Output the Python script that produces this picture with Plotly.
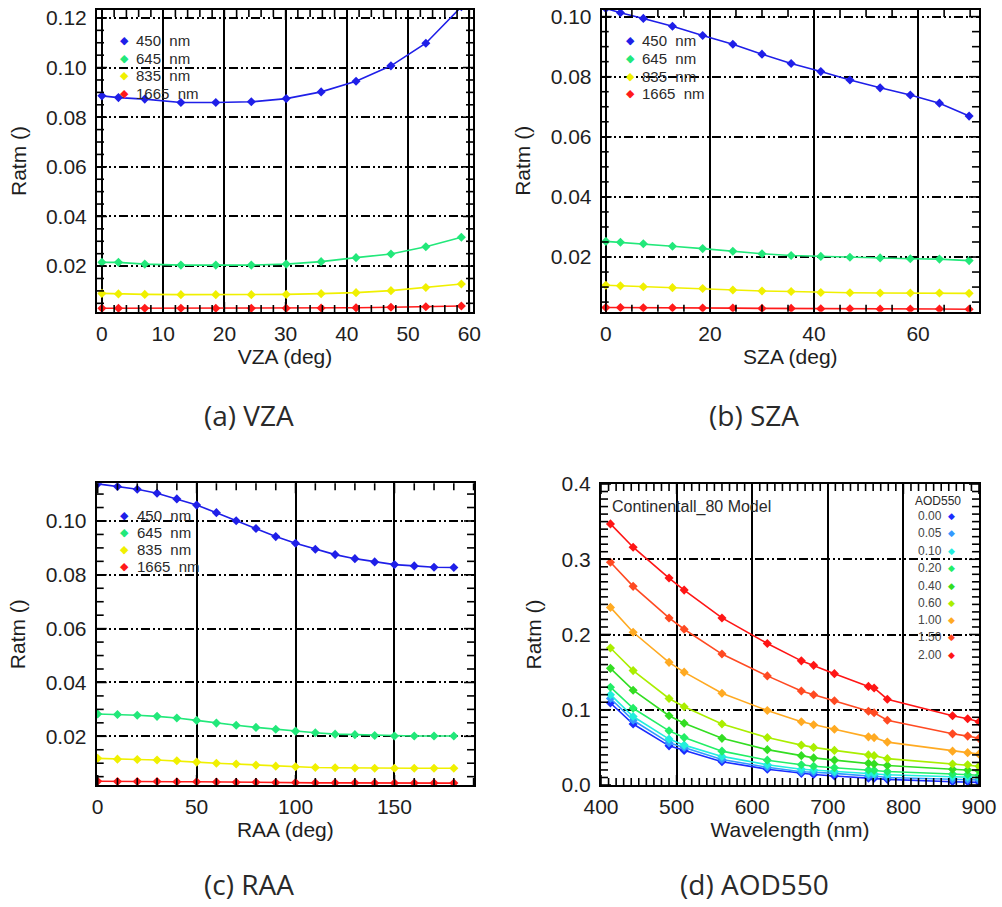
import numpy as np
import plotly.graph_objects as go

# ---------------- data ----------------
band_labels = ["450 nm", "645 nm", "835 nm", "1665 nm"]
band_colors = ["#1f1fe8", "#22e87a", "#f0f000", "#ff1a1a"]

vza = [0, 2.7, 7.0, 12.9, 18.6, 24.4, 30.1, 35.8, 41.5, 47.2, 52.9, 58.7]
vza_450 = [0.0886, 0.0879, 0.0873, 0.0859, 0.0859, 0.0862, 0.0875, 0.0902, 0.0945, 0.1007, 0.1098, 0.1245]
vza_645 = [0.0215, 0.0215, 0.0208, 0.0204, 0.0204, 0.0204, 0.0208, 0.0218, 0.0234, 0.0249, 0.0278, 0.0316]
vza_835 = [0.0090, 0.0088, 0.0086, 0.0085, 0.0085, 0.0085, 0.0086, 0.0089, 0.0093, 0.0101, 0.0114, 0.0128]
vza_1665 = [0.0030, 0.0030, 0.0030, 0.0030, 0.0030, 0.0030, 0.0030, 0.0031, 0.0032, 0.0034, 0.0036, 0.0039]

sza = [0, 2.8, 7.2, 12.8, 18.6, 24.4, 30.0, 35.6, 41.3, 46.9, 52.7, 58.5, 64.1, 69.8]
sza_450 = [0.1027, 0.1013, 0.0994, 0.0968, 0.0937, 0.0908, 0.0875, 0.0844, 0.0817, 0.0789, 0.0763, 0.0739, 0.0712, 0.0669]
sza_645 = [0.0252, 0.0249, 0.0244, 0.0236, 0.0228, 0.0219, 0.0211, 0.0205, 0.0202, 0.0199, 0.0197, 0.0194, 0.0193, 0.0188]
sza_835 = [0.0106, 0.0104, 0.0101, 0.0098, 0.0095, 0.0090, 0.0087, 0.0085, 0.0082, 0.0081, 0.0080, 0.0080, 0.0080, 0.0079]
sza_1665 = [0.0032, 0.0032, 0.0031, 0.0031, 0.0030, 0.0030, 0.0029, 0.0029, 0.0028, 0.0028, 0.0027, 0.0027, 0.0027, 0.0026]

raa = [0, 10, 20, 30, 40, 50, 60, 70, 80, 90, 100, 110, 120, 130, 140, 150, 160, 170, 180]
raa_450 = [0.1138, 0.1128, 0.1118, 0.1103, 0.1082, 0.1059, 0.1031, 0.1001, 0.0972, 0.0942,
           0.0917, 0.0895, 0.0875, 0.0860, 0.0848, 0.0838, 0.0833, 0.0828, 0.0827]
raa_645 = [0.0283, 0.0281, 0.0278, 0.0274, 0.0268, 0.0259, 0.0249, 0.0241, 0.0233, 0.0226,
           0.0219, 0.0213, 0.0208, 0.0206, 0.0203, 0.0201, 0.0201, 0.0201, 0.0201]
raa_835 = [0.0118, 0.0115, 0.0114, 0.0112, 0.0109, 0.0104, 0.0100, 0.0097, 0.0093, 0.0089,
           0.0087, 0.0084, 0.0083, 0.0082, 0.0081, 0.0081, 0.0081, 0.0081, 0.0081]
raa_1665 = [0.0033, 0.0032, 0.0032, 0.0032, 0.0031, 0.0031, 0.0030, 0.0029, 0.0029, 0.0028,
            0.0028, 0.0027, 0.0027, 0.0027, 0.0026, 0.0026, 0.0026, 0.0026, 0.0026]

wavelength = [412.5, 442.5, 490, 510, 560, 620, 665, 681.25, 708.75, 753.75, 761.25, 778.75, 865, 885, 900]
aod_labels = ["0.00", "0.05", "0.10", "0.20", "0.40", "0.60", "1.00", "1.50", "2.00"]
aod_colors = ["#1a2cff", "#3399ff", "#22eedd", "#22ee66", "#33dd22", "#aaee00", "#ffaa22", "#ff4a22", "#ff1515"]
aod_000 = [0.109, 0.081, 0.052, 0.046, 0.031, 0.021, 0.0155, 0.014, 0.012, 0.009, 0.009, 0.0075, 0.0044, 0.0044, 0.0035]
aod_005 = [0.115, 0.086, 0.056, 0.050, 0.034, 0.0235, 0.0177, 0.017, 0.0155, 0.012, 0.012, 0.010, 0.0075, 0.0075, 0.0067]
aod_010 = [0.120, 0.091, 0.061, 0.053, 0.038, 0.027, 0.021, 0.020, 0.018, 0.0155, 0.015, 0.0137, 0.011, 0.0106, 0.010]
aod_020 = [0.130, 0.102, 0.072, 0.063, 0.045, 0.033, 0.027, 0.025, 0.023, 0.020, 0.0195, 0.018, 0.0146, 0.014, 0.013]
aod_040 = [0.155, 0.126, 0.092, 0.082, 0.062, 0.047, 0.039, 0.036, 0.033, 0.029, 0.028, 0.026, 0.021, 0.020, 0.019]
aod_060 = [0.182, 0.152, 0.115, 0.104, 0.081, 0.063, 0.053, 0.050, 0.046, 0.040, 0.039, 0.035, 0.028, 0.027, 0.025]
aod_100 = [0.236, 0.203, 0.163, 0.150, 0.122, 0.099, 0.084, 0.080, 0.074, 0.064, 0.063, 0.057, 0.045, 0.043, 0.041]
aod_150 = [0.296, 0.264, 0.222, 0.207, 0.174, 0.145, 0.125, 0.120, 0.112, 0.098, 0.096, 0.086, 0.068, 0.065, 0.062]
aod_200 = [0.347, 0.316, 0.275, 0.259, 0.222, 0.188, 0.165, 0.159, 0.148, 0.131, 0.129, 0.114, 0.092, 0.088, 0.084]

captions = ["(a) VZA", "(b) SZA", "(c) RAA", "(d) AOD550"]
x_titles = ["VZA (deg)", "SZA (deg)", "RAA (deg)", "Wavelength (nm)"]
y_title = "Ratm ()"
model_label = "Continentall_80 Model"
aod_legend_title = "AOD550"

# ---------------- figure ----------------
W, H = 1002, 907
fig = go.Figure()

def px_x(p):
    return p / W

def px_y(p):
    return 1 - p / H

panels = [
    # (axis suffix, x domain px, y domain px, xrange, yrange, xdtick, xminor, ydtick, yminor, yfmt)
    ("", (97, 473), (10, 312), [-0.8, 60.6], [0.0015, 0.1232], 10, 2, 0.02, 0.005, ".2f"),
    ("2", (601.7, 979), (10, 311.7), [-0.8, 71.7], [0.0018, 0.1022], 20, 5, 0.02, 0.005, ".2f"),
    ("3", (96.7, 474), (483.3, 785), [-0.5, 190.2], [0.0019, 0.1140], 50, 10, 0.02, 0.005, ".2f"),
    ("4", (601, 979), (484, 785), [400, 900], [0.0, 0.4], 100, 10, 0.1, 0.01, ".1f"),
]

series_sets = [
    (vza, [vza_450, vza_645, vza_835, vza_1665], band_colors),
    (sza, [sza_450, sza_645, sza_835, sza_1665], band_colors),
    (raa, [raa_450, raa_645, raa_835, raa_1665], band_colors),
    (wavelength, [aod_000, aod_005, aod_010, aod_020, aod_040, aod_060, aod_100, aod_150, aod_200], aod_colors),
]
series_names = [band_labels, band_labels, band_labels, aod_labels]

tick_font = dict(family="Liberation Sans, Arial, sans-serif", size=21, color="#1e1e1e")
title_font = dict(family="Liberation Sans, Arial, sans-serif", size=21, color="#1e1e1e")


def tick_positions(lo, hi, step):
    k0 = int(np.ceil(lo / step - 1e-9))
    k1 = int(np.floor(hi / step + 1e-9))
    return [k * step for k in range(k0, k1 + 1)]


layout_axes = {}
shapes = []
MINOR_LEN, MAJOR_LEN = 7.0, 10.0
tick_line = dict(color="black", width=1.6)
for i, (suf, xd, yd, xr, yr, xdt, xmn, ydt, ymn, yfmt) in enumerate(panels):
    xdom = [px_x(xd[0]), px_x(xd[1])]
    ydom = [px_y(yd[1]), px_y(yd[0])]
    layout_axes["xaxis" + suf] = dict(
        domain=xdom, range=xr, anchor="y" + suf, automargin=False,
        showline=True, linecolor="black", linewidth=2, mirror=True,
        ticks="", showgrid=True, gridcolor="black", gridwidth=1.5,
        dtick=xdt, tick0=0, zeroline=False, tickfont=tick_font, ticklabelstandoff=2,
        ticklabeloverflow="allow",
        title=dict(text=x_titles[i], font=title_font, standoff=2),
    )
    layout_axes["yaxis" + suf] = dict(
        domain=ydom, range=yr, anchor="x" + suf, automargin=False,
        showline=True, linecolor="black", linewidth=2, mirror=True,
        ticks="", showgrid=True, gridcolor="black", gridwidth=1.5,
        griddash="9px,3px,2px,3px,2px,3px",
        dtick=ydt, tick0=0, tickformat=yfmt, zeroline=False, tickfont=tick_font,
        ticklabelstandoff=4, ticklabeloverflow="allow",
        title=dict(text=y_title, font=title_font, standoff=14),
    )

    # inward tick marks on all four sides, placed in paper coordinates from each axis' range
    def xmap(v, xr=xr, xdom=xdom):
        return xdom[0] + (v - xr[0]) / (xr[1] - xr[0]) * (xdom[1] - xdom[0])

    def ymap(v, yr=yr, ydom=ydom):
        return ydom[0] + (v - yr[0]) / (yr[1] - yr[0]) * (ydom[1] - ydom[0])

    for t in tick_positions(xr[0], xr[1], xmn):
        is_major = abs(t / xdt - round(t / xdt)) < 1e-6
        L = (MAJOR_LEN if is_major else MINOR_LEN) / H
        xp = xmap(t)
        for y0, y1 in ((ydom[0], ydom[0] + L), (ydom[1], ydom[1] - L)):
            shapes.append(dict(type="line", xref="paper", yref="paper", x0=xp, x1=xp,
                               y0=y0, y1=y1, line=tick_line, layer="above"))
    for t in tick_positions(yr[0], yr[1], ymn):
        is_major = abs(t / ydt - round(t / ydt)) < 1e-6
        L = (MAJOR_LEN if is_major else MINOR_LEN) / W
        yp = ymap(t)
        for x0, x1 in ((xdom[0], xdom[0] + L), (xdom[1], xdom[1] - L)):
            shapes.append(dict(type="line", xref="paper", yref="paper", x0=x0, x1=x1,
                               y0=yp, y1=yp, line=tick_line, layer="above"))

    xs, ys_list, cols = series_sets[i]
    for name, ys, c in zip(series_names[i], ys_list, cols):
        fig.add_trace(go.Scatter(
            x=xs, y=ys, mode="lines+markers", name=name, showlegend=False,
            line=dict(color=c, width=1.6),
            marker=dict(symbol="diamond", size=7, color=c),
            xaxis="x" + suf, yaxis="y" + suf,
        ))

annotations = []
cap_font = dict(family="Open Sans, sans-serif", size=28, color="#2a2a2a")
cap_pos = [(249, 415), (754, 415), (249, 884), (754, 884)]
for cap, (cx, cy) in zip(captions, cap_pos):
    annotations.append(dict(text=cap, x=px_x(cx), y=px_y(cy), xref="paper", yref="paper",
                            xanchor="center", yanchor="middle", showarrow=False, font=cap_font))

# band legends for panels a-c
leg_font = dict(family="Liberation Sans, Arial, sans-serif", size=15, color="#2a2a2a")
leg_pos = [(124.3, 134.3, [40.7, 58.3, 75.9, 93.2]),
           (630, 640, [40.7, 58.3, 76.0, 93.3]),
           (124, 135, [515, 532, 549.3, 566.7])]
for mx_, tx, rows in leg_pos:
    for lab, col, ry in zip(band_labels, band_colors, rows):
        annotations.append(dict(text="\u25C6", x=px_x(mx_), y=px_y(ry), xref="paper", yref="paper",
                                xanchor="center", yanchor="middle", showarrow=False,
                                font=dict(family="DejaVu Sans", size=11, color=col)))
        annotations.append(dict(text=lab.replace(" ", "\u00a0\u00a0"), x=px_x(tx), y=px_y(ry),
                                xref="paper", yref="paper", xanchor="left", yanchor="middle",
                                showarrow=False, font=leg_font))

# panel d labels
annotations.append(dict(text=model_label, x=px_x(610), y=px_y(507), xref="paper", yref="paper",
                        xanchor="left", yanchor="middle", showarrow=False,
                        font=dict(family="Liberation Sans, Arial, sans-serif", size=16, color="#2a2a2a")))
annotations.append(dict(text=aod_legend_title, x=px_x(937.5), y=px_y(501), xref="paper", yref="paper",
                        xanchor="center", yanchor="middle", showarrow=False,
                        font=dict(family="Liberation Sans, Arial, sans-serif", size=12, color="#2a2a2a")))
aod_rows = [515.7, 533.3, 550.7, 568.3, 585.7, 602.7, 620, 637, 654.7]
for lab, col, ry in zip(aod_labels, aod_colors, aod_rows):
    annotations.append(dict(text=lab, x=px_x(916), y=px_y(ry), xref="paper", yref="paper",
                            xanchor="left", yanchor="middle", showarrow=False,
                            font=dict(family="Liberation Sans, Arial, sans-serif", size=12, color="#444")))
    annotations.append(dict(text="\u25C6", x=px_x(951.7), y=px_y(ry), xref="paper", yref="paper",
                            xanchor="center", yanchor="middle", showarrow=False,
                            font=dict(family="DejaVu Sans", size=9, color=col)))

fig.update_layout(
    width=W, height=H, margin=dict(l=0, r=0, t=0, b=0),
    paper_bgcolor="white", plot_bgcolor="white", showlegend=False,
    annotations=annotations, shapes=shapes, **layout_axes,
)

# remove the default 8px page margin so the figure sits at the window's top-left corner
fig.write_html("out.html", config={"displayModeBar": False},
               post_script="document.body.style.margin='0px';")
